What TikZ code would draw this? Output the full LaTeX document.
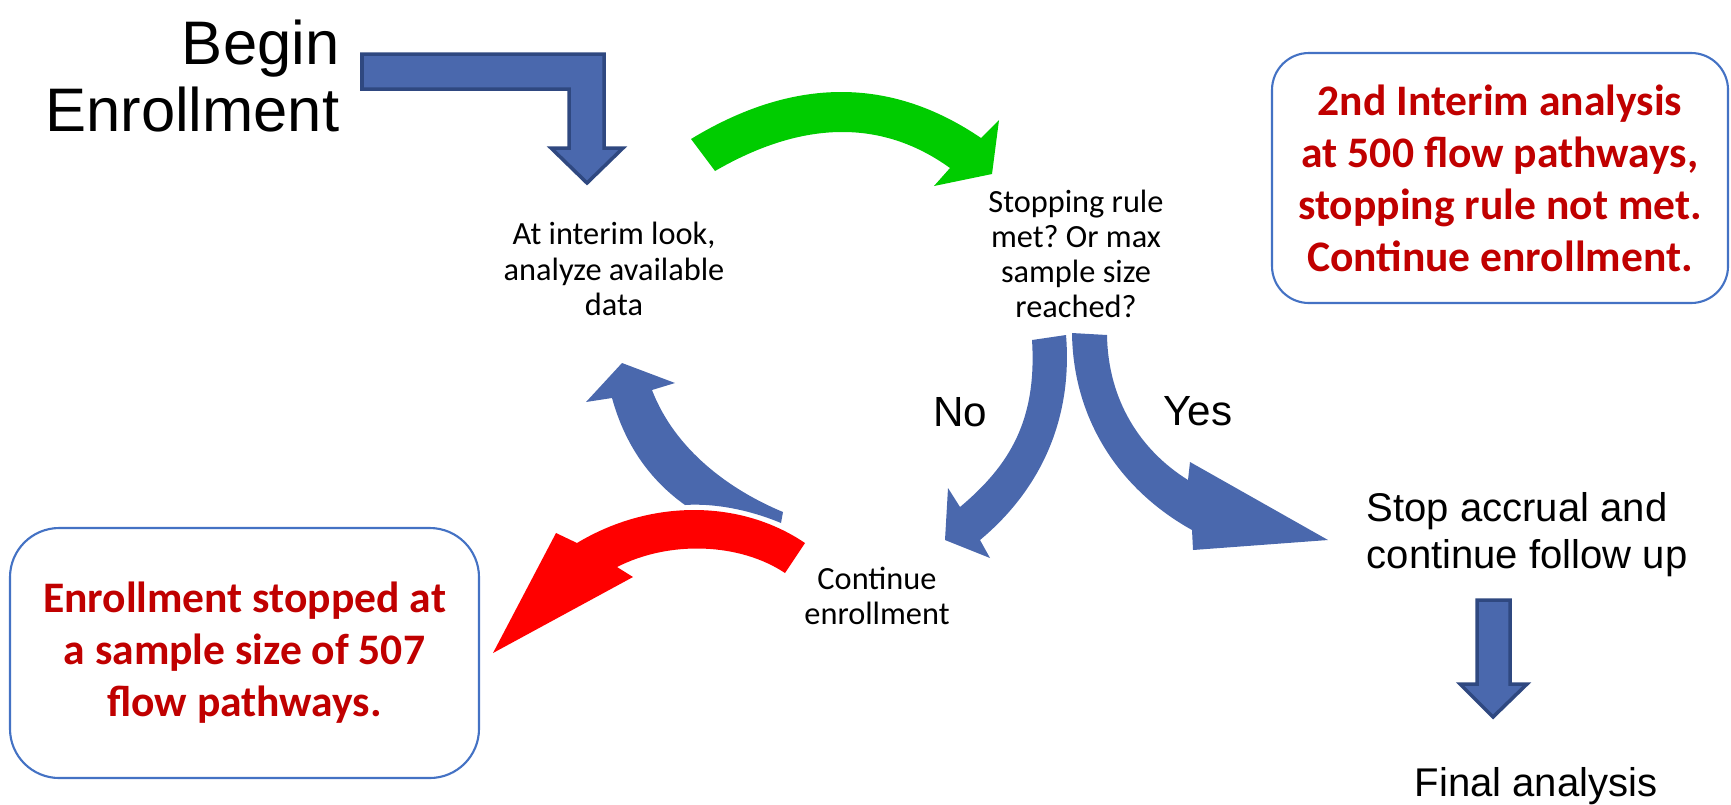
\documentclass[tikz,border=0pt]{standalone}
\usepackage{fontspec}
\setmainfont{Liberation Sans}
\newfontfamily\calfont{Carlito}
\frenchspacing
\definecolor{arrowblue}{RGB}{74,104,173}
\definecolor{arrowedge}{RGB}{47,72,128}
\definecolor{boxblue}{RGB}{68,114,196}
\definecolor{darkred}{RGB}{192,0,0}
\definecolor{brightgreen}{RGB}{0,204,0}
\definecolor{brightred}{RGB}{255,0,0}
\tikzset{
  smalltext/.style={inner sep=0pt, align=center, font=\calfont\fontsize{9.2}{10}\selectfont},
  arialtext/.style={inner sep=0pt, align=center, font=\fontsize{11.4}{13.4}\selectfont},
  notebox/.style={draw=boxblue, line width=0.6pt, fill=white, align=center, inner sep=0pt,
     text=darkred, font=\calfont\bfseries\fontsize{12.4}{14.8}\selectfont},
  blockarrow/.style={fill=arrowblue, draw=arrowedge, line width=1pt, line join=miter},
  curvedblue/.style={fill=arrowblue},
}
\begin{document}
\begin{tikzpicture}[x=0.1mm,y=-0.1mm]
\useasboundingbox (0,0) rectangle (1731,804);

% Begin enrollment
\node[anchor=east, inner sep=0pt, align=right, font=\fontsize{17.5}{19.3}\selectfont] (begin) at (340,76) {Begin\\Enrollment};

% elbow arrow
\draw[blockarrow] (362,54) -- (604,54) -- (604,148) -- (623,148) -- (587,183) -- (551,148) -- (569,148) -- (569,89) -- (362,89) -- cycle;

% green arrow
\fill[brightgreen] (691,139) .. controls (793,77) and (890,76) .. (981,138) -- (999,120) -- (992,174) -- (934,186) -- (950,168) .. controls (882,119) and (803,120) .. (715,171) -- cycle;

% text nodes
\node[smalltext] (look) at (614,269) {At interim look,\\analyze available\\data};
\node[smalltext] (rule) at (1076,254) {Stopping rule\\met? Or max\\sample size\\reached?};
\node[smalltext] (cont) at (877,596) {Continue\\enrollment};
\node[arialtext, align=left, anchor=west] (stop) at (1366,535) {Stop accrual and\\continue follow up};
\node[arialtext] (final) at (1536,786) {Final analysis};
\node[inner sep=0pt, font=\fontsize{12}{14}\selectfont] (no) at (960,412) {No};
\node[inner sep=0pt, font=\fontsize{12}{14}\selectfont] (yes) at (1198,411) {Yes};

% No arrow
\fill[curvedblue] (1032,340) -- (1066,335)
  .. controls (1073,420) and (1040,490) .. (980,540)
  -- (990,558) -- (945,540) -- (948,488) -- (960,507)
  .. controls (1010,465) and (1037,420) .. (1032,340)
  -- cycle;

% Yes arrow
\fill[curvedblue] (1072,333) -- (1107,335)
  .. controls (1108,400) and (1140,450) .. (1188,480)
  -- (1190,462) -- (1328,540) -- (1193,550) -- (1192,530)
  .. controls (1120,490) and (1073,420) .. (1072,333)
  -- cycle;

% blue return arrow
\fill[curvedblue] (783,512)
  .. controls (730,490) and (675,450) .. (652,390)
  -- (675,383) -- (622,363) -- (586,402) -- (612,398)
  .. controls (625,445) and (650,480) .. (685,505)
  .. controls (715,503) and (750,510) .. (781,523)
  -- cycle;

% red arrow
\fill[brightred] (805,543)
  .. controls (740,499) and (650,499) .. (577,543)
  -- (556,533) -- (493,653) -- (633,577) -- (617,567)
  .. controls (670,540) and (740,543) .. (785,573)
  -- cycle;

% down arrow
\draw[blockarrow] (1477,600) -- (1510,600) -- (1510,684) -- (1527,684) -- (1493,717) -- (1460,684) -- (1477,684) -- cycle;

% note boxes
\node[notebox, rounded corners=10.5pt, minimum width=45.6mm, minimum height=25mm] (note2) at (1500,178)
  {2nd Interim analysis\\at 500 flow pathways,\\stopping rule not met.\\Continue enrollment.};
\node[notebox, rounded corners=14pt, minimum width=46.9mm, minimum height=25mm] (note1) at (244.5,653)
  {Enrollment stopped at\\a sample size of 507\\flow pathways.};
\end{tikzpicture}
\end{document}
